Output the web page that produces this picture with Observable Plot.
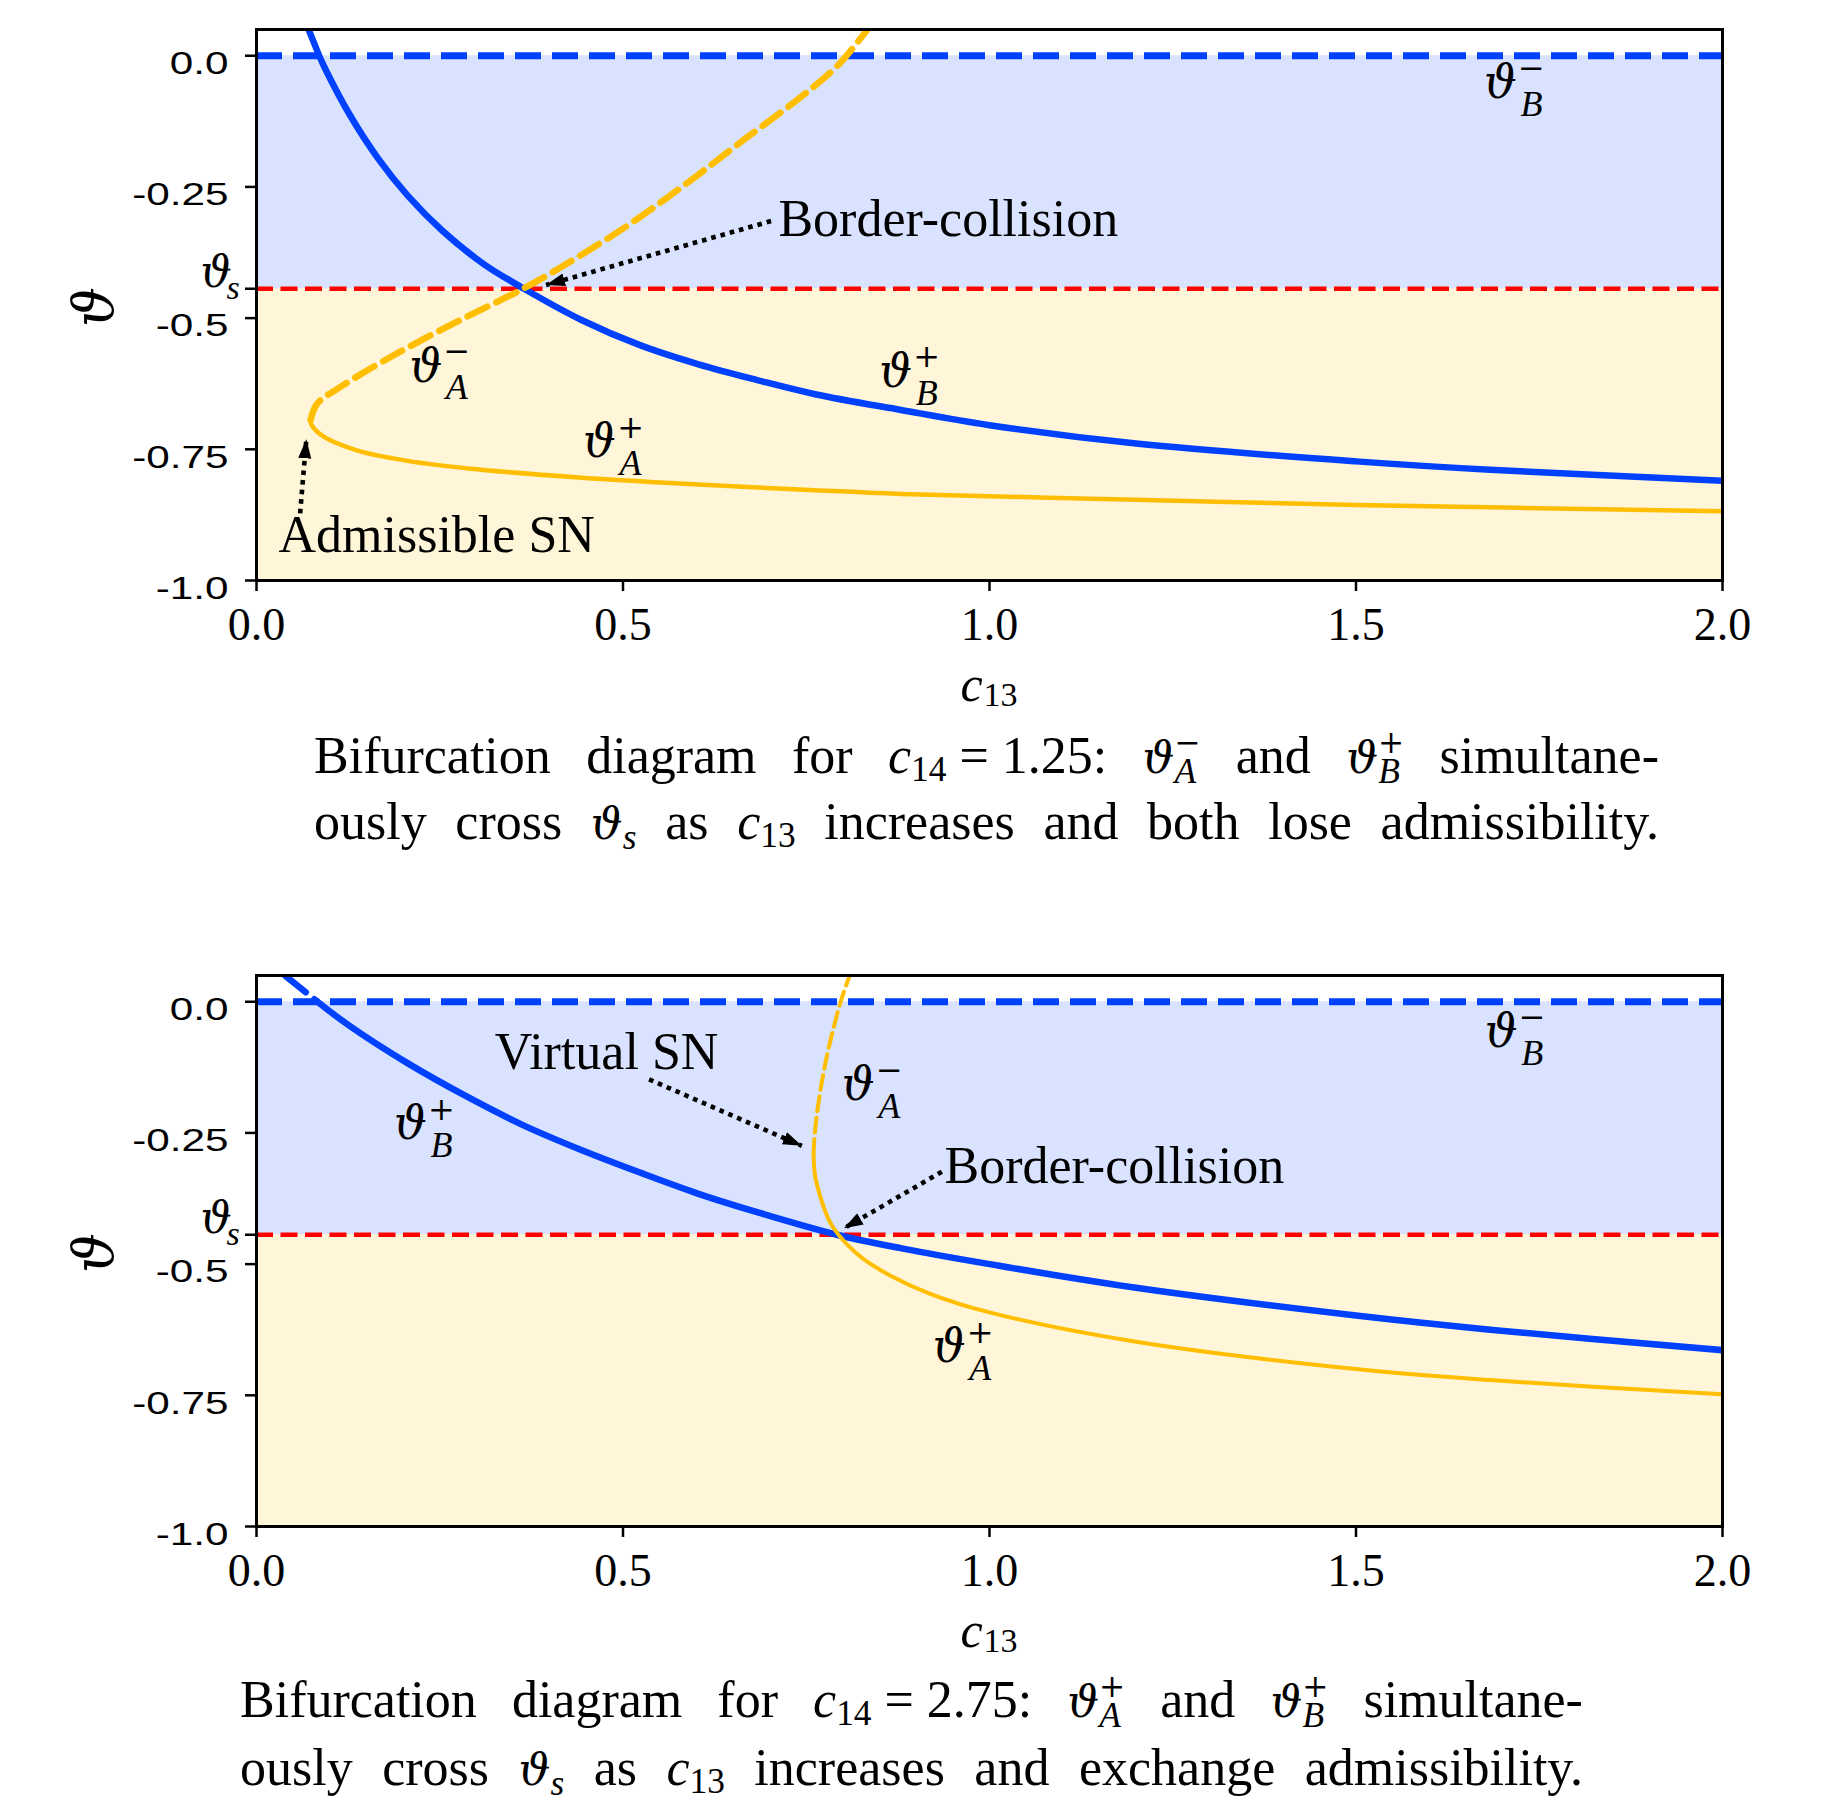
<!DOCTYPE html>
<html>
<head>
<meta charset="utf-8">
<script src="https://cdn.jsdelivr.net/npm/d3@7"></script>
<script src="https://cdn.jsdelivr.net/npm/@observablehq/plot@0.6"></script>
<style>
html,body{margin:0;padding:0;background:#fff;}
#page{position:relative;width:1824px;height:1803px;overflow:hidden;background:#fff;}
.fig{position:absolute;left:0;}
.cap{position:absolute;display:flex;justify-content:space-between;align-items:baseline;font-family:"Liberation Serif",serif;font-size:52px;line-height:1;color:#000;}
.cap .w{white-space:nowrap;}
.cap i{font-style:italic;}
.th{font-family:"DejaVu Serif",serif;font-style:italic;font-size:0.86em;}
.sb{position:relative;top:0.3em;font-size:0.68em;font-style:italic;}
.sp{position:relative;top:-0.62em;font-size:0.6em;font-family:"DejaVu Serif",serif;margin-left:-0.7em;}
.sn{position:relative;top:0.25em;font-size:0.68em;}
</style>
</head>
<body>
<div id="page"></div>
<script>
// ---------- shared axis data ----------
const xDomain = [0, 2];
const yDomain = [-1, 0.05];
const thetaS = -0.444;
const c13Ticks = [0, 0.5, 1, 1.5, 2];
const c13TickLabels = ["0.0", "0.5", "1.0", "1.5", "2.0"];
const thetaTicks = [0, -0.25, -0.5, -0.75, -1];
const thetaTickLabels = ["0.0", "-0.25", "-0.5", "-0.75", "-1.0"];

// ---------- panel 1 : c14 = 1.25 ----------
const top_thetaBplus_virtual = [[0.0714, 0.049], [0.0855, 0.0]];
const top_thetaBplus = [[0.0855, 0], [0.0952, -0.029], [0.127, -0.112], [0.166, -0.196], [0.206, -0.266],
  [0.254, -0.334], [0.309, -0.396], [0.365, -0.444], [0.444, -0.504], [0.524, -0.552], [0.603, -0.588],
  [0.683, -0.618], [0.762, -0.645], [0.879, -0.675], [1.0, -0.704], [1.2, -0.739], [1.5, -0.773],
  [1.683, -0.789], [2.0, -0.810]];
const top_thetaAminus = [[0.0737, -0.694], [0.0828, -0.663], [0.1146, -0.631], [0.183, -0.574], [0.251, -0.523],
  [0.292, -0.494], [0.365, -0.443], [0.413, -0.405], [0.508, -0.322], [0.587, -0.243], [0.665, -0.160],
  [0.746, -0.075], [0.794, -0.017], [0.833, 0.049]];
const top_thetaAplus = [[0.0737, -0.694], [0.0753, -0.704], [0.0917, -0.726], [0.137, -0.752], [0.206, -0.772],
  [0.292, -0.787], [0.444, -0.804], [0.603, -0.817], [0.762, -0.828], [0.879, -0.835], [1.2, -0.846],
  [1.5, -0.856], [2.0, -0.868]];
const top_labels = [
  {c: 1.697, t: -0.053, sub: "B", sup: "−"},
  {c: 0.231, t: -0.593, sub: "A", sup: "−"},
  {c: 0.872, t: -0.603, sub: "B", sup: "+"},
  {c: 0.468, t: -0.737, sub: "A", sup: "+"}
];
const top_notes = [
  {c: 0.712, t: -0.311, text: "Border-collision"},
  {c: 0.030, t: -0.914, text: "Admissible SN"}
];
const top_arrows = [
  {x1: 0.702, y1: -0.315, x2: 0.395, y2: -0.437},
  {x1: 0.0595, y1: -0.872, x2: 0.068, y2: -0.731}
];

// ---------- panel 2 : c14 = 2.75 ----------
const bot_thetaBplus_virtual = [[0.0396, 0.049], [0.0832, 0.0]];
const bot_thetaBplus = [[0.0832, 0], [0.127, -0.046], [0.206, -0.117], [0.286, -0.180], [0.365, -0.236],
  [0.444, -0.283], [0.524, -0.326], [0.603, -0.366], [0.683, -0.401], [0.792, -0.444], [0.88, -0.470],
  [1.0, -0.500], [1.2, -0.545], [1.5, -0.598], [1.683, -0.625], [2.0, -0.664]];
const bot_thetaAminus = [[0.760, -0.290], [0.761, -0.262], [0.766, -0.199], [0.778, -0.1045], [0.797, 0.0], [0.809, 0.049]];
const bot_thetaAplus = [[0.760, -0.290], [0.762, -0.331], [0.770, -0.375], [0.782, -0.419], [0.794, -0.444],
  [0.825, -0.487], [0.865, -0.522], [0.92, -0.557], [1.0, -0.592], [1.2, -0.648], [1.5, -0.700],
  [1.683, -0.721], [2.0, -0.748]];
const bot_labels = [
  {c: 1.698, t: -0.059, sub: "B", sup: "−"},
  {c: 0.210, t: -0.234, sub: "B", sup: "+"},
  {c: 0.821, t: -0.160, sub: "A", sup: "−"},
  {c: 0.945, t: -0.659, sub: "A", sup: "+"}
];
const bot_notes = [
  {c: 0.325, t: -0.0974, text: "Virtual SN"},
  {c: 0.9386, t: -0.313, text: "Border-collision"}
];
const bot_arrows = [
  {x1: 0.5356, y1: -0.148, x2: 0.744, y2: -0.2746},
  {x1: 0.935, y1: -0.324, x2: 0.8015, y2: -0.4317}
];

// ---------- captions ----------
const th = (sub, sup) => `<span class="th">ϑ</span><span class="sb">${sub}</span><span class="sp">${sup}</span>`;
const thS = `<span class="th">ϑ</span><span class="sb">s</span>`;
const cSub = (n) => `<i>c</i><span class="sn">${n}</span>`;
const captionTop = [
  ["Bifurcation", "diagram", "for", cSub("14") + " = 1.25:", th("A", "−"), "and", th("B", "+"), "simultane-"],
  ["ously", "cross", thS, "as", cSub("13"), "increases", "and", "both", "lose", "admissibility."]
];
const captionBottom = [
  ["Bifurcation", "diagram", "for", cSub("14") + " = 2.75:", th("A", "+"), "and", th("B", "+"), "simultane-"],
  ["ously", "cross", thS, "as", cSub("13"), "increases", "and", "exchange", "admissibility."]
];

// ---------- styles ----------
const BLUE = "#0040ff", YELLOW = "#ffbf00", RED = "#ff0000";
const SERIF = "Liberation Serif, DejaVu Serif, serif";
const THETA = "DejaVu Serif, serif";
const SANS = "Liberation Sans, Arial, sans-serif";

function arrowHead() {
  const ns = "http://www.w3.org/2000/svg";
  const m = document.createElementNS(ns, "marker");
  m.setAttribute("viewBox", "-19 -7 19 14");
  m.setAttribute("markerWidth", "19");
  m.setAttribute("markerHeight", "14");
  m.setAttribute("markerUnits", "userSpaceOnUse");
  m.setAttribute("orient", "auto");
  m.setAttribute("refX", "0");
  m.setAttribute("refY", "0");
  const p = document.createElementNS(ns, "path");
  p.setAttribute("d", "M-19,-6.5L0,0L-19,6.5Z");
  p.setAttribute("fill", "black");
  p.setAttribute("stroke", "none");
  m.appendChild(p);
  return m;
}

function panel(P, marker) {
  const xy = {x: d => d[0], y: d => d[1], curve: "catmull-rom", clip: true};
  const fx = new Map(c13Ticks.map((t, i) => [t, c13TickLabels[i]]));
  const fy = new Map(thetaTicks.map((t, i) => [t, thetaTickLabels[i]]));
  return Plot.plot({
    width: 1824, height: 720,
    marginLeft: 256, marginRight: 102, marginTop: 29, marginBottom: 140,
    x: {domain: xDomain},
    y: {domain: yDomain},
    style: {background: "transparent", color: "black", overflow: "visible"},
    marks: [
      Plot.rect([thetaS], {x1: xDomain[0], x2: xDomain[1], y1: d => d, y2: 0, fill: BLUE, fillOpacity: 0.15}),
      Plot.rect([thetaS], {x1: xDomain[0], x2: xDomain[1], y1: yDomain[0], y2: d => d, fill: YELLOW, fillOpacity: 0.15}),
      Plot.ruleY([thetaS], {stroke: RED, strokeWidth: 4.7, strokeDasharray: "17,7.5"}),
      Plot.ruleY([0], {stroke: BLUE, strokeWidth: 7, strokeDasharray: "26,11"}),
      Plot.line(P.bVirtual, {...xy, stroke: BLUE, strokeWidth: P.bw, strokeDasharray: "26,11"}),
      Plot.line(P.bPlus, {...xy, stroke: BLUE, strokeWidth: P.bw}),
      Plot.line(P.aMinus, {...xy, stroke: YELLOW, strokeWidth: P.aDashW, strokeDasharray: P.aDash}),
      Plot.line(P.aPlus, {...xy, stroke: YELLOW, strokeWidth: P.aw}),
      Plot.link(P.arrows, {x1: "x1", y1: "y1", x2: "x2", y2: "y2", stroke: "black", strokeWidth: 4.6,
        strokeDasharray: "4.6,5", markerEnd: marker}),
      Plot.text(P.notes, {x: "c", y: "t", text: "text", textAnchor: "start", fontFamily: SERIF, fontSize: 52}),
      Plot.text(P.labels, {x: "c", y: "t", text: () => "ϑ", fontFamily: THETA, fontStyle: "italic", fontSize: 46}),
      Plot.text(P.labels, {x: "c", y: "t", text: "sub", dx: 31, dy: 21, fontFamily: SERIF, fontStyle: "italic", fontSize: 36}),
      Plot.text(P.labels, {x: "c", y: "t", text: "sup", dx: 31, dy: -15, fontFamily: THETA, fontSize: 32}),
      // y label and theta_s label
      Plot.text(["ϑ"], {frameAnchor: "left", text: d => d, dx: -161, dy: 22, rotate: -90, fontFamily: THETA, fontStyle: "italic", fontSize: 56}),
      Plot.text([thetaS], {y: d => d, frameAnchor: "left", text: () => "ϑ", dx: -56, dy: -16, fontFamily: THETA, fontStyle: "italic", fontSize: 44}),
      Plot.text([thetaS], {y: d => d, frameAnchor: "left", text: () => "s", dx: -30, dy: -1, fontFamily: SERIF, fontStyle: "italic", fontSize: 34}),
      // x label
      Plot.text(["c"], {frameAnchor: "bottom", text: d => d, dx: -18, dy: 120, lineAnchor: "bottom", fontFamily: SERIF, fontStyle: "italic", fontSize: 50}),
      Plot.text(["13"], {frameAnchor: "bottom", text: d => d, dx: 11, dy: 125, lineAnchor: "bottom", fontFamily: SERIF, fontSize: 34}),
      Plot.frame({stroke: "black", strokeWidth: 3}),
      Plot.axisX({ticks: c13Ticks, tickFormat: d => fx.get(d), tickSize: 11, tickPadding: 16, strokeWidth: 2.5,
        fontSize: 46, fontFamily: SERIF, label: null}),
      Plot.axisY({ticks: [...thetaTicks, thetaS], tickSize: 11, strokeWidth: 2.5, fill: "none", label: null}),
      // y tick labels
      Plot.text(thetaTicks, {y: d => d, frameAnchor: "left", text: d => fy.get(d), textAnchor: "end",
        dx: -28, dy: 8, fontSize: 32, fontFamily: SANS})
    ]
  });
}

function stretchY(svg) {
  svg.querySelectorAll('g[font-family^="Liberation Sans"] text').forEach(t => {
    const L = t.getComputedTextLength();
    t.setAttribute("textLength", (L * 1.32).toFixed(1));
    t.setAttribute("lengthAdjust", "spacingAndGlyphs");
  });
}

const page = document.getElementById("page");

function addFigure(P, top) {
  let svg;
  try { svg = panel(P, arrowHead); } catch (e) { svg = panel(P, "arrow"); }
  const wrap = document.createElement("div");
  wrap.className = "fig";
  wrap.style.top = top + "px";
  wrap.appendChild(svg);
  page.appendChild(wrap);
  stretchY(svg);
}

function addCaption(lines, left, width, tops) {
  lines.forEach((tokens, i) => {
    const div = document.createElement("div");
    div.className = "cap";
    div.style.left = left + "px";
    div.style.width = width + "px";
    div.style.top = tops[i] + "px";
    div.innerHTML = tokens.map(t => `<span class="w">${t}</span>`).join("");
    page.appendChild(div);
  });
}

addFigure({bVirtual: top_thetaBplus_virtual, bPlus: top_thetaBplus, aMinus: top_thetaAminus, aPlus: top_thetaAplus,
  labels: top_labels, notes: top_notes, arrows: top_arrows, bw: 6.5, aw: 4.5, aDashW: 6.5, aDash: "22,10"}, 0);
addCaption(captionTop, 314, 1345, [729.5, 795.5]);

addFigure({bVirtual: bot_thetaBplus_virtual, bPlus: bot_thetaBplus, aMinus: bot_thetaAminus, aPlus: bot_thetaAplus,
  labels: bot_labels, notes: bot_notes, arrows: bot_arrows, bw: 6.5, aw: 4, aDashW: 4, aDash: "15,6.5"}, 945.5);
addCaption(captionBottom, 240, 1343, [1673.5, 1741.5]);
</script>
</body>
</html>
